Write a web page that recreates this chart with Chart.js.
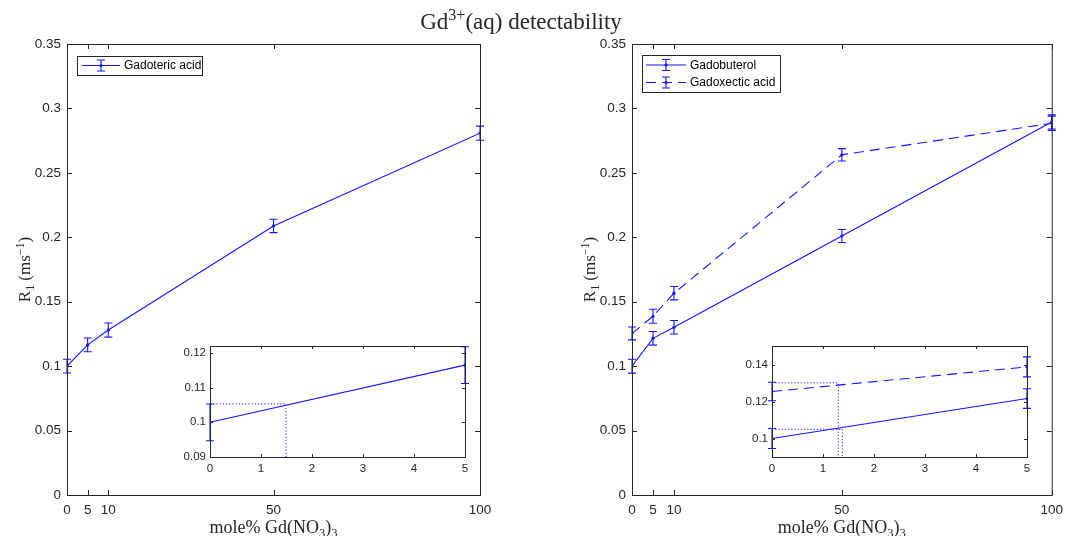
<!DOCTYPE html>
<html>
<head>
<meta charset="utf-8">
<script src="https://cdn.jsdelivr.net/npm/chart.js@4.4.1/dist/chart.umd.min.js"></script>
<style>
    html, body { margin: 0; padding: 0; background: #fff; }
    #wrap { position: relative; width: 1070px; height: 536px; }
    #wrap canvas { position: absolute; left: 0; top: 0; }
</style>
</head>
<body>
<div id="wrap">
    <canvas id="mainLeft" width="1070" height="536"></canvas>
    <canvas id="mainRight" width="1070" height="536"></canvas>
    <canvas id="insetLeft" width="1070" height="536"></canvas>
    <canvas id="insetRight" width="1070" height="536"></canvas>
</div>
<script>
// tick labels
var xTicksMain = [0, 5, 10, 50, 100];
var yTicksMain = [0, 0.05, 0.1, 0.15, 0.2, 0.25, 0.3, 0.35];
var xTicksInset = [0, 1, 2, 3, 4, 5];
var yTicksInsetLeft = [0.09, 0.1, 0.11, 0.12];
var yTicksInsetRight = [0.1, 0.12, 0.14];

// mole% Gd(NO3)3
var molePct = [0, 5, 10, 50, 100];

// R1 (ms^-1) et incertitudes
var gadoteric = [0.100, 0.1165, 0.128, 0.2088, 0.2808];
var gadotericErr = [0.0053, 0.0053, 0.0055, 0.0052, 0.0055];
var gadobuterol = [0.100, 0.1216, 0.1302, 0.201, 0.2895];
var gadobuterolErr = [0.0054, 0.0053, 0.0052, 0.005, 0.0055];
var gadoxetic = [0.1254, 0.1387, 0.1566, 0.264, 0.2885];
var gadoxeticErr = [0.005, 0.0054, 0.0052, 0.0048, 0.0055];

// limites de detection (inserts)
var gadotericLimit = { x: 1.49, y: 0.1053 };
var gadobuterolLimit = { x: 1.38, y: 0.105 };
var gadoxeticLimit = { x: 1.30, y: 0.1301 };

var BLUE = 'rgb(20,20,250)';
var AXIS = '#262626';
var DASH = [10, 6];
var SANS = '"Liberation Sans", Arial, sans-serif';
var SERIF = '"Liberation Serif", "DejaVu Serif", serif';

function points(ys) {
    return molePct.map(function(x, i) { return { x: x, y: ys[i] }; });
}

function series(ys, errs, dashed) {
    return {
        data: points(ys),
        errors: errs,
        showLine: true,
        borderColor: BLUE,
        backgroundColor: BLUE,
        borderWidth: 1.1,
        borderDash: dashed ? DASH : [],
        pointRadius: 1.6,
        pointBorderWidth: 0
    };
}

function limitLine(lim, yMin) {
    return {
        data: [{ x: 0, y: lim.y }, { x: lim.x, y: lim.y }, { x: lim.x, y: yMin }],
        showLine: true,
        borderColor: BLUE,
        borderWidth: 1,
        borderDash: [1.2, 2],
        pointRadius: 0
    };
}

// texte avec indices / exposants
function richText(ctx, parts, x, y, size, align) {
    var w = 0;
    parts.forEach(function(p) {
        ctx.font = (p.sub || p.sup ? size * 0.7 : size) + 'px ' + SERIF;
        p.w = ctx.measureText(p.t).width;
        w += p.w;
    });
    var cx = align === 'center' ? x - w / 2 : x;
    ctx.textAlign = 'left';
    ctx.textBaseline = 'alphabetic';
    parts.forEach(function(p) {
        ctx.font = (p.sub || p.sup ? size * 0.7 : size) + 'px ' + SERIF;
        var dy = p.sub ? size * 0.22 : (p.sup ? -size * 0.38 : 0);
        ctx.fillText(p.t, cx, y + dy);
        cx += p.w;
    });
}

function errorBar(ctx, x, yTop, yBot, cap) {
    ctx.beginPath();
    ctx.moveTo(x, yTop); ctx.lineTo(x, yBot);
    ctx.moveTo(x - cap, yTop); ctx.lineTo(x + cap, yTop);
    ctx.moveTo(x - cap, yBot); ctx.lineTo(x + cap, yBot);
    ctx.stroke();
}

function framePlugin(cfg) {
    return {
        id: 'frame',
        beforeDatasetsDraw: function(chart) {
            if (!cfg.fill) return;
            var a = chart.chartArea, ctx = chart.ctx;
            ctx.save();
            ctx.fillStyle = '#fff';
            ctx.fillRect(a.left, a.top, a.right - a.left, a.bottom - a.top);
            ctx.restore();
        },
        afterDatasetsDraw: function(chart) {
            var ctx = chart.ctx, a = chart.chartArea;
            var xs = chart.scales.x, ys = chart.scales.y;
            ctx.save();
            ctx.beginPath();
            ctx.rect(a.left - 8, a.top - 0.5, a.right - a.left + 16, a.bottom - a.top + 1);
            ctx.clip();
            ctx.strokeStyle = BLUE;
            ctx.lineWidth = 1.1;
            chart.data.datasets.forEach(function(ds) {
                if (!ds.errors) return;
                ds.data.forEach(function(p, j) {
                    if (p.x < xs.min || p.x > xs.max) return;
                    var px = xs.getPixelForValue(p.x);
                    errorBar(ctx, px, ys.getPixelForValue(p.y + ds.errors[j]),
                        ys.getPixelForValue(p.y - ds.errors[j]), cfg.cap);
                });
            });
            ctx.restore();
        },
        afterDraw: function(chart) {
            var ctx = chart.ctx, a = chart.chartArea;
            var xs = chart.scales.x, ys = chart.scales.y;
            var tl = cfg.tick;
            ctx.save();
            ctx.strokeStyle = AXIS;
            ctx.lineWidth = 1;
            ctx.strokeRect(a.left + 0.5, a.top + 0.5, a.right - a.left, a.bottom - a.top);
            ctx.beginPath();
            xs.ticks.forEach(function(t) {
                var px = Math.round(xs.getPixelForValue(t.value)) + 0.5;
                ctx.moveTo(px, a.bottom); ctx.lineTo(px, a.bottom - tl);
                ctx.moveTo(px, a.top); ctx.lineTo(px, a.top + tl);
            });
            ys.ticks.forEach(function(t) {
                var py = Math.round(ys.getPixelForValue(t.value)) + 0.5;
                ctx.moveTo(a.left, py); ctx.lineTo(a.left + tl, py);
                ctx.moveTo(a.right, py); ctx.lineTo(a.right - tl, py);
            });
            ctx.stroke();

            ctx.fillStyle = AXIS;
            if (cfg.xTitle) {
                richText(ctx, cfg.xTitle, (a.left + a.right) / 2, 533, 18, 'center');
            }
            if (cfg.yTitle) {
                ctx.save();
                ctx.translate(a.left - 37, (a.top + a.bottom) / 2);
                ctx.rotate(-Math.PI / 2);
                richText(ctx, cfg.yTitle, 0, 0, 17, 'center');
                ctx.restore();
            }
            if (cfg.title) {
                richText(ctx, cfg.title, 521, 29, 23, 'center');
            }

            // legende
            if (cfg.legend) {
                var L = cfg.legend;
                ctx.fillStyle = '#fff';
                ctx.fillRect(L.box[0], L.box[1], L.box[2] - L.box[0], L.box[3] - L.box[1]);
                ctx.strokeStyle = AXIS;
                ctx.strokeRect(L.box[0] + 0.5, L.box[1] + 0.5, L.box[2] - L.box[0], L.box[3] - L.box[1]);
                L.items.forEach(function(it, k) {
                    var y = L.y0 + k * L.dy;
                    var mid = (L.x1 + L.x2) / 2;
                    ctx.strokeStyle = BLUE;
                    ctx.lineWidth = 1.1;
                    ctx.setLineDash(it.dashed ? DASH : []);
                    ctx.beginPath();
                    ctx.moveTo(L.x1, y); ctx.lineTo(L.x2, y);
                    ctx.stroke();
                    ctx.setLineDash([]);
                    errorBar(ctx, mid, y - 5.5, y + 5.5, 4);
                    ctx.fillStyle = BLUE;
                    ctx.beginPath();
                    ctx.arc(mid, y, 1.6, 0, Math.PI * 2);
                    ctx.fill();
                    ctx.fillStyle = '#000';
                    ctx.font = '12px ' + SANS;
                    ctx.textAlign = 'left';
                    ctx.textBaseline = 'middle';
                    ctx.fillText(it.label, L.x2 + 4, y + 0.5);
                });
            }
            ctx.restore();
        }
    };
}

function axis(min, max, ticks, size, pad, fit) {
    return {
        type: 'linear',
        min: min,
        max: max,
        afterBuildTicks: function(s) { s.ticks = ticks.map(function(v) { return { value: v }; }); },
        afterFit: fit,
        grid: { display: false, drawTicks: false },
        border: { display: false },
        ticks: {
            autoSkip: false,
            maxRotation: 0,
            padding: pad,
            color: AXIS,
            font: { family: SANS, size: size },
            callback: function(v) { return String(v); }
        }
    };
}

// box: [gauche, haut, droite, bas] de la zone de trace
function makeChart(id, box, yWidth, xHeight, xs, ys, datasets, cfg) {
    return new Chart(document.getElementById(id), {
        type: 'scatter',
        data: { datasets: datasets },
        options: {
            responsive: false,
            animation: false,
            events: [],
            layout: { padding: { left: box[0] - yWidth, top: box[1], right: 1070 - box[2], bottom: 536 - box[3] - xHeight } },
            plugins: { legend: { display: false }, tooltip: { enabled: false } },
            scales: {
                x: axis(xs.min, xs.max, xs.ticks, xs.size, xs.pad, function(s) { s.height = xHeight; }),
                y: axis(ys.min, ys.max, ys.ticks, ys.size, ys.pad, function(s) { s.width = yWidth; })
            }
        },
        plugins: [framePlugin(cfg)]
    });
}

var yTitle = [{ t: 'R' }, { t: '1', sub: true }, { t: ' (ms' }, { t: '\u22121', sup: true }, { t: ')' }];
var xTitle = [{ t: 'mole% Gd(NO' }, { t: '3', sub: true }, { t: ')' }, { t: '3', sub: true }];
var title = [{ t: 'Gd' }, { t: '3+', sup: true }, { t: '(aq) detectability' }];

var xMain = { min: 0, max: 100, ticks: xTicksMain, size: 13.5, pad: 7 };
var yMain = { min: 0, max: 0.35, ticks: yTicksMain, size: 13.5, pad: 6 };

makeChart('mainLeft', [67, 44, 480, 495], 67, 41, xMain, yMain,
    [series(gadoteric, gadotericErr, false)],
    { tick: 5, cap: 4, xTitle: xTitle, yTitle: yTitle, title: title,
      legend: { box: [77, 56, 202, 75], x1: 82, x2: 120, y0: 65.5, dy: 0,
                items: [{ label: 'Gadoteric acid' }] } });

makeChart('mainRight', [632, 44, 1059, 495], 67, 41, xMain, yMain,
    [series(gadobuterol, gadobuterolErr, false), series(gadoxetic, gadoxeticErr, true)],
    { tick: 5, cap: 4, xTitle: xTitle, yTitle: yTitle,
      legend: { box: [642, 55, 780, 92], x1: 646, x2: 686, y0: 65, dy: 17.5,
                items: [{ label: 'Gadobuterol' }, { label: 'Gadoxectic acid', dashed: true }] } });

makeChart('insetLeft', [210, 346, 465, 457], 45, 30,
    { min: 0, max: 5, ticks: xTicksInset, size: 11.5, pad: 5 },
    { min: 0.09, max: 0.122, ticks: yTicksInsetLeft, size: 11.5, pad: 4 },
    [limitLine(gadotericLimit, 0.09), series(gadoteric, gadotericErr, false)],
    { tick: 3, cap: 4, fill: true });

makeChart('insetRight', [772, 346, 1027, 457], 45, 30,
    { min: 0, max: 5, ticks: xTicksInset, size: 11.5, pad: 5 },
    { min: 0.09, max: 0.15, ticks: yTicksInsetRight, size: 11.5, pad: 4 },
    [limitLine(gadoxeticLimit, 0.09), limitLine(gadobuterolLimit, 0.09),
     series(gadobuterol, gadobuterolErr, false), series(gadoxetic, gadoxeticErr, true)],
    { tick: 3, cap: 4, fill: true });
</script>
</body>
</html>
